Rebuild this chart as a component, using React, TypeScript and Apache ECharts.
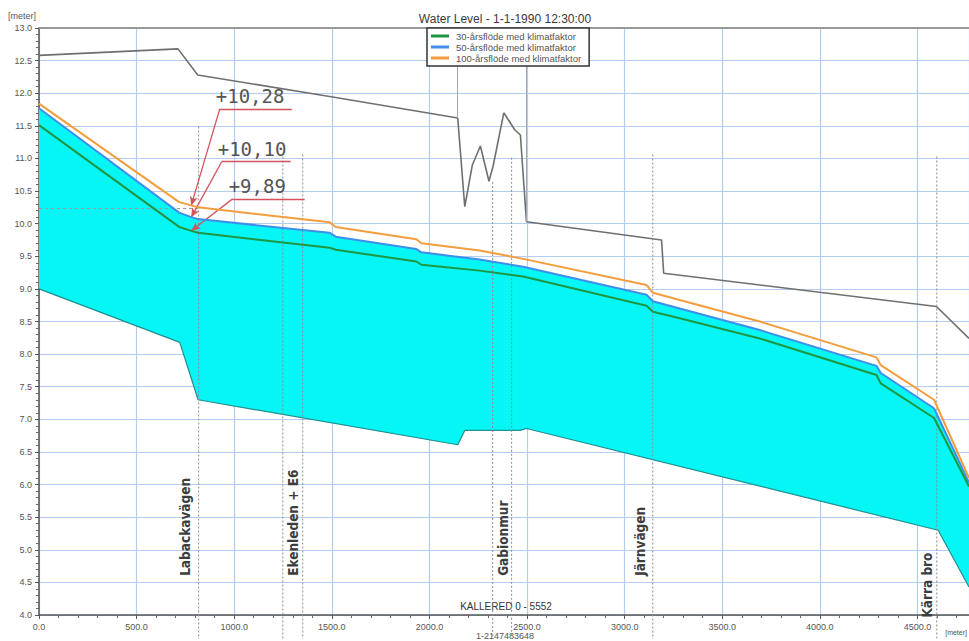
import { useEffect, useRef } from 'react';
import * as echarts from 'echarts';

// Chainage along the reach (m) and computed water levels (m) for the three design floods
const waterChainage = [0, 718, 780, 815, 1489, 1520, 1933, 1959, 2257, 2480, 3112, 3145, 3282, 3692, 4290, 4312, 4585, 4764];
const level30 = [11.51, 9.95, 9.89, 9.86, 9.63, 9.6, 9.42, 9.37, 9.28, 9.19, 8.74, 8.65, 8.55, 8.24, 7.68, 7.55, 7.02, 5.97];
const level50 = [11.77, 10.17, 10.1, 10.07, 9.86, 9.8, 9.61, 9.56, 9.45, 9.34, 8.91, 8.81, 8.7, 8.37, 7.82, 7.71, 7.17, 6.03];
const level100 = [11.84, 10.33, 10.28, 10.25, 10.02, 9.95, 9.76, 9.7, 9.59, 9.46, 9.06, 8.94, 8.83, 8.5, 7.95, 7.83, 7.3, 6.1];

// Channel bed
const bedChainage = [0, 721, 815, 2145, 2181, 2466, 2497, 4606, 4764];
const bedLevel = [9.0, 8.18, 7.3, 6.61, 6.83, 6.83, 6.86, 5.3, 4.43];

// Left bank / terrain
const bankChainage = [0, 712, 813, 1489, 2145, 2181, 2220, 2261, 2305, 2326, 2381, 2437, 2466, 2497, 3189, 3200, 4597, 4764];
const bankLevel = [12.58, 12.68, 12.28, 11.95, 11.62, 10.26, 10.9, 11.19, 10.65, 10.88, 11.7, 11.44, 11.36, 10.03, 9.75, 9.24, 8.73, 8.24];

// Structures crossing the reach
const locationNames = ['Labackavägen', 'Ekenleden + E6', 'Gabionmur', 'Järnvägen', 'Kärra bro'];
const locationChainage = [[818], [1249, 1351], [2324, 2421], [3144], [4599]];
const locationTop = [[11.49], [11.03, 11.06], [10.64, 11.01], [11.06], [11.03]];

// Levels called out at Labackavägen
const calloutChainage = 780;
const calloutIndex = waterChainage.indexOf(calloutChainage);

const seriesNames = ['30-årsflöde med klimatfaktor', '50-årsflöde med klimatfaktor', '100-årsflöde med klimatfaktor'];

const X_MAX = 4764;

// layout of the label texts and callouts (data units)
const locationLabelAt = [
  [746, 4.6],
  [1300, 4.6],
  [2375, 4.6],
  [3077, 4.6],
  [4548, 3.96],
];
const calloutKnee = [
  [926, 11.76, 1295],
  [936, 10.95, 1289],
  [992, 10.38, 1361],
];

const pairs = (xs: number[], ys: number[]) => xs.map((x, i) => [x, ys[i]]);
const fmtLevel = (v: number) => '+' + v.toFixed(2).replace('.', ',');

const calloutLines = (level: number, k: number[]) => [
  [
    {
      coord: [k[0], k[1]],
      symbol: 'none',
      label: {
        show: true,
        formatter: fmtLevel(level),
        position: 'insideStartTop',
        distance: [-4, 3],
        color: '#555',
        fontSize: 19,
        fontFamily: '"DejaVu Sans Mono", monospace',
      },
    },
    { coord: [k[2], k[1]], symbol: 'none' },
  ],
  [
    { coord: [k[0], k[1]], symbol: 'none', label: { show: false } },
    { coord: [calloutChainage, level], symbol: 'arrow', symbolSize: [6, 9], label: { show: false } },
  ],
];

const redLine = { color: '#d4525c', width: 1.3, type: 'solid' as const };

export default function App() {
  const ref = useRef<HTMLDivElement>(null);

  useEffect(() => {
    if (!ref.current) return;
    const chart = echarts.init(ref.current, undefined, { renderer: 'svg' });
    const sans = '"Liberation Sans", Arial, sans-serif';
    const axisFont = { color: '#555', fontSize: 9, fontFamily: sans };

    const option: any = {
      animation: false,
      backgroundColor: '#fff',
      grid: { left: 39, right: 0, top: 28, bottom: 26, containLabel: false },
      legend: {
        data: seriesNames,
        orient: 'vertical',
        left: 427,
        top: 28,
        backgroundColor: '#fff',
        borderColor: '#333',
        borderWidth: 1.5,
        borderRadius: 0,
        padding: [3, 8, 3, 4],
        itemGap: 1,
        itemWidth: 18,
        itemHeight: 3,
        icon: 'rect',
        textStyle: { color: '#555', fontSize: 9.5, fontFamily: sans, lineHeight: 10, padding: [0, 0, 0, 2] },
        z: 10,
      },
      graphic: [
        { type: 'text', left: 8, top: 11, style: { text: '[meter]', fontSize: 9, fill: '#555', fontFamily: sans } },
        {
          type: 'text', x: 505, y: 19,
          style: { text: 'Water Level - 1-1-1990 12:30:00', fontSize: 12, fill: '#3a3a3a', fontFamily: sans, align: 'center', verticalAlign: 'middle' },
        },
        {
          type: 'text', x: 506, y: 606,
          style: { text: 'KALLERED 0 - 5552', fontSize: 10, fill: '#333', fontFamily: sans, align: 'center', verticalAlign: 'middle' },
        },
        {
          type: 'text', x: 505, y: 636,
          style: { text: '1-2147483648', fontSize: 9, fill: '#555', fontFamily: sans, align: 'center', verticalAlign: 'middle' },
        },
        {
          type: 'text', x: 967, y: 632,
          style: { text: '[meter]', fontSize: 7, fill: '#555', fontFamily: sans, align: 'right', verticalAlign: 'middle' },
        },
      ],
      xAxis: [
        {
          type: 'value',
          min: 0,
          max: X_MAX,
          interval: 500,
          axisLine: { show: true, onZero: false, lineStyle: { color: '#555', width: 1.5 } },
          axisTick: { show: true, length: 4, lineStyle: { color: '#555' } },
          minorTick: { show: true, splitNumber: 5, length: 3, lineStyle: { color: '#666' } },
          axisLabel: { ...axisFont, margin: 7, showMaxLabel: false, formatter: (v: number) => (v % 500 === 0 ? v.toFixed(1) : '') },
          splitLine: { show: true, lineStyle: { color: '#b3cdf0', width: 1.2 } },
        },
        {
          type: 'value',
          position: 'top',
          min: 0,
          max: X_MAX,
          axisLine: { show: true, onZero: false, lineStyle: { color: '#999', width: 2 } },
          axisTick: { show: false },
          axisLabel: { show: false },
          splitLine: { show: false },
        },
      ],
      yAxis: {
        type: 'value',
        min: 4,
        max: 13,
        interval: 0.5,
        axisLine: { show: true, onZero: false, lineStyle: { color: '#555', width: 1.5 } },
        axisTick: { show: true, length: 4, lineStyle: { color: '#555' } },
        minorTick: { show: true, splitNumber: 5, length: 3, lineStyle: { color: '#666' } },
        axisLabel: { ...axisFont, margin: 7, formatter: (v: number) => v.toFixed(1) },
        splitLine: { show: true, lineStyle: { color: '#b3cdf0', width: 1.2 } },
      },
      series: [
        {
          name: 'flow area',
          type: 'custom',
          silent: true,
          z: 1,
          data: [[0, 9]],
          renderItem: (_params: any, api: any) => {
            const pts: number[][] = [];
            waterChainage.forEach((c, i) => pts.push(api.coord([c, level50[i]])));
            for (let i = bedChainage.length - 1; i >= 0; i--) pts.push(api.coord([bedChainage[i], bedLevel[i]]));
            return { type: 'polygon', shape: { points: pts }, style: { fill: '#06f6f6', stroke: 'none' } };
          },
        },
        {
          name: 'bed',
          type: 'line',
          z: 3,
          symbol: 'none',
          silent: true,
          data: pairs(bedChainage, bedLevel),
          lineStyle: { color: '#1f8f8f', width: 1.2 },
        },
        {
          name: 'bank',
          type: 'line',
          z: 3,
          symbol: 'none',
          silent: true,
          data: pairs(bankChainage, bankLevel),
          lineStyle: { color: '#6f6f6f', width: 1.6 },
          markLine: {
            silent: true,
            symbol: ['none', 'none'],
            label: { show: false },
            data: [
              [{ coord: [2145, 13], lineStyle: { color: '#a5a5a5', width: 1, type: 'solid' } }, { coord: [2145, 11.62] }],
              [{ coord: [2497, 13], lineStyle: { color: '#a5a5a5', width: 1, type: 'solid' } }, { coord: [2497, 10.03] }],
              [{ coord: [0, 10.23], lineStyle: { color: '#9a9a9a', width: 1, type: [3, 3] } }, { coord: [818, 10.23] }],
            ],
          },
        },
        {
          name: 'locations',
          type: 'custom',
          silent: true,
          clip: false,
          z: 4,
          data: locationNames.map((_, i) => [locationChainage[i][0], locationTop[i][0]]),
          renderItem: (params: any, api: any) => {
            const i = params.dataIndex;
            const children: any[] = [];
            locationChainage[i].forEach((c, j) => {
              const top = api.coord([c, locationTop[i][j]]);
              const base = api.coord([c, 4]);
              children.push({
                type: 'line',
                shape: { x1: top[0], y1: top[1], x2: base[0], y2: base[1] + 24 },
                style: { stroke: '#8c8c8c', lineWidth: 1, lineDash: [2, 2] },
              });
            });
            const p = api.coord(locationLabelAt[i]);
            children.push({
              type: 'text',
              x: p[0],
              y: p[1],
              rotation: Math.PI / 2,
              style: {
                text: locationNames[i],
                fill: '#3d3d3d',
                fontSize: 13.5,
                fontWeight: 'bold',
                fontFamily: '"DejaVu Sans Condensed", sans-serif',
                align: 'left',
                verticalAlign: 'middle',
              },
            });
            return { type: 'group', children };
          },
        },
        {
          name: seriesNames[0],
          type: 'line',
          z: 6,
          symbol: 'none',
          color: '#1f9641',
          lineStyle: { width: 2 },
          data: pairs(waterChainage, level30),
          markLine: {
            silent: true,
            symbol: ['none', 'none'],
            lineStyle: redLine,
            data: calloutLines(level30[calloutIndex], calloutKnee[2]),
          },
        },
        {
          name: seriesNames[1],
          type: 'line',
          z: 5,
          symbol: 'none',
          color: '#3f8fea',
          lineStyle: { width: 2 },
          data: pairs(waterChainage, level50),
          markLine: {
            silent: true,
            symbol: ['none', 'none'],
            lineStyle: redLine,
            data: calloutLines(level50[calloutIndex], calloutKnee[1]),
          },
        },
        {
          name: seriesNames[2],
          type: 'line',
          z: 5,
          symbol: 'none',
          color: '#f49d3c',
          lineStyle: { width: 2 },
          data: pairs(waterChainage, level100),
          markLine: {
            silent: true,
            symbol: ['none', 'none'],
            lineStyle: redLine,
            data: calloutLines(level100[calloutIndex], calloutKnee[0]),
          },
        },
      ],
    };

    chart.setOption(option);
    return () => chart.dispose();
  }, []);

  return <div ref={ref} style={{ position: 'fixed', left: 0, top: 0, width: 969, height: 641 }} />;
}
